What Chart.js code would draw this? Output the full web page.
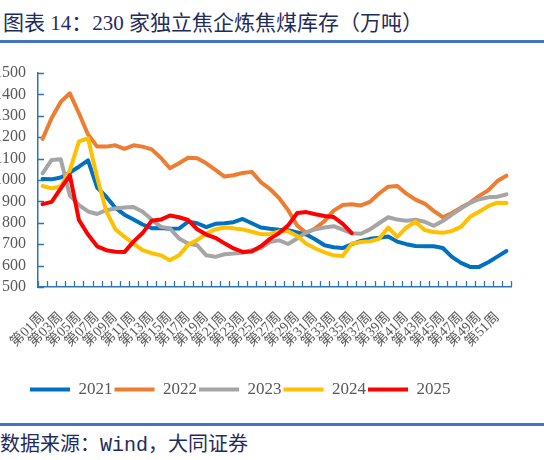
<!DOCTYPE html>
<html>
<head>
<meta charset="utf-8">
<script src="https://cdn.jsdelivr.net/npm/chart.js@4.4.1/dist/chart.umd.min.js"></script>
<style>
  body { margin: 0; width: 544px; height: 460px; background: #fff; position: relative; overflow: hidden; }
  #titulo { position: absolute; left: 3px; top: 6px; font: 21px "Liberation Serif", "Noto Sans CJK SC", serif; color: #1f2c5c; white-space: nowrap; }
  .linha { position: absolute; left: 0; width: 544px; height: 3px; background: #4472c4; }
  #fonte { position: absolute; left: 0; top: 428px; font: 20px "Noto Sans CJK SC", sans-serif; color: #1f2c5c; white-space: nowrap; }
  #fonte span { font-family: "Liberation Mono", monospace; }
  #caixa { position: absolute; left: -12px; top: 50px; }
</style>
</head>
<body>
<div id="titulo">图表 14：230 家独立焦企炼焦煤库存（万吨）</div>
<div class="linha" style="top:40px"></div>
<div id="caixa"><canvas id="grafico_estoque" width="556" height="358"></canvas></div>
<div class="linha" style="top:423px"></div>
<div id="fonte">数据来源：<span>Wind</span>，大同证券</div>
<script>
// semanas do ano
var semanas = ['第01周', '第02周', '第03周', '第04周', '第05周', '第06周', '第07周', '第08周', '第09周', '第10周',
  '第11周', '第12周', '第13周', '第14周', '第15周', '第16周', '第17周', '第18周', '第19周', '第20周',
  '第21周', '第22周', '第23周', '第24周', '第25周', '第26周', '第27周', '第28周', '第29周', '第30周',
  '第31周', '第32周', '第33周', '第34周', '第35周', '第36周', '第37周', '第38周', '第39周', '第40周',
  '第41周', '第42周', '第43周', '第44周', '第45周', '第46周', '第47周', '第48周', '第49周', '第50周',
  '第51周', '第52周'];

var anos = ['2021', '2022', '2023', '2024', '2025'];

// estoque de carvao de coque (10 mil toneladas)
var estoque2021 = [1005, 1003, 1012, 1035, 1062, 1092, 965, 922, 870, 838, 815, 792, 775, 776, 772, 773, 805, 798, 780, 795,
  798, 803, 818, 798, 778, 772, 768, 765, 755, 745, 722, 695, 686, 682, 700, 715, 725, 730, 736, 712,
  700, 692, 691, 690, 682, 641, 613, 594, 594, 616, 642, 668];
var estoque2022 = [1192, 1290, 1365, 1405, 1312, 1213, 1156, 1156, 1162, 1146, 1162, 1156, 1143, 1104, 1055, 1078, 1104, 1102, 1078, 1047,
  1016, 1022, 1033, 1038, 990, 958, 916, 859, 787, 752, 775, 808, 857, 883, 887, 881, 898, 937, 969, 972,
  936, 908, 890, 856, 826, 846, 871, 894, 926, 952, 995, 1020];
var estoque2023 = [1031, 1094, 1097, 928, 883, 853, 841, 859, 867, 871, 874, 852, 815, 781, 774, 727, 703, 695, 648, 641,
  653, 656, 660, 672, 682, 710, 718, 701, 727, 755, 770, 778, 784, 768, 751, 749, 769, 798, 826, 815,
  810, 814, 805, 786, 808, 838, 866, 893, 910, 919, 922, 933];
var estoque2024 = [972, 961, 970, 1045, 1180, 1195, 1012, 855, 770, 735, 703, 672, 658, 648, 625, 648, 697, 719, 750, 769,
  778, 774, 769, 758, 747, 748, 760, 760, 738, 702, 680, 662, 648, 645, 703, 710, 714, 725, 778, 734,
  778, 805, 766, 757, 753, 762, 781, 828, 852, 878, 894, 893];
var estoque2025 = [887, 898, 961, 1023, 813, 745, 690, 672, 665, 663, 712, 752, 810, 815, 834, 826, 813, 770, 745, 730,
  704, 680, 664, 666, 690, 725, 752, 788, 846, 850, 840, 832, 827, 795, 752];

var cores = ['#0070c0', '#ed7d31', '#a5a5a5', '#ffc000', '#ff0000'];
var corEixo = '#2f75b5';
var corTexto = '#595959';

// marcas curtas dos eixos voltadas para dentro (como no Excel)
var marcasInternas = {
  id: 'marcasInternas',
  afterLayout: function (chart) {
    // legenda comeca mais a direita, alinhada como no original
    chart.legend.left += 40;
    chart.legend.right += 40;
  },
  beforeDatasetsDraw: function (chart) {
    var c = chart.ctx;
    var area = chart.chartArea;
    var eixoX = chart.scales.x;
    var eixoY = chart.scales.y;
    c.save();
    c.strokeStyle = corEixo;
    c.lineWidth = 1.3;
    c.beginPath();
    eixoY.ticks.forEach(function (t) {
      var py = Math.round(eixoY.getPixelForValue(t.value)) + 0.5;
      c.moveTo(area.left, py);
      c.lineTo(area.left + 6, py);
    });
    for (var i = 0; i <= semanas.length; i++) {
      var px = Math.round(eixoX.getPixelForValue(i - 0.5)) + 0.5;
      c.moveTo(px, area.bottom);
      c.lineTo(px, area.bottom - 6);
    }
    c.stroke();
    c.restore();
  }
};

var series = [estoque2021, estoque2022, estoque2023, estoque2024, estoque2025];
var datasets = [];
for (var i = 0; i < anos.length; i++) {
  datasets.push({
    label: anos[i],
    data: series[i],
    borderColor: cores[i],
    backgroundColor: cores[i],
    borderWidth: 4,
    pointRadius: 0,
    fill: false,
    tension: 0,
    borderJoinStyle: 'round',
    borderCapStyle: 'round',
    order: anos.length - i // 2025 por cima
  });
}

var ctx = document.getElementById('grafico_estoque').getContext('2d');
var meuGrafico = new Chart(ctx, {
  type: 'line',
  data: {
    labels: semanas,
    datasets: datasets
  },
  options: {
    responsive: false,
    animation: false,
    layout: { padding: { left: 0, right: 33, top: 23, bottom: 0 } },
    scales: {
      x: {
        offset: true,
        grid: { display: false, drawTicks: false, offset: true },
        border: { display: true, color: corEixo, width: 1.5 },
        afterFit: function (scale) { scale.height = 92; },
        ticks: {
          autoSkip: false,
          minRotation: 45,
          maxRotation: 45,
          padding: 22,
          color: corTexto,
          font: { family: '"Liberation Serif", "Noto Sans CJK SC"', size: 14 },
          callback: function (valor, indice) {
            return indice % 2 === 0 ? semanas[indice] : '';
          }
        }
      },
      y: {
        min: 500,
        max: 1500,
        grid: { display: false, drawTicks: false },
        border: { display: true, color: corEixo, width: 1.5 },
        afterFit: function (scale) { scale.width = 50; },
        ticks: {
          stepSize: 100,
          autoSkip: false,
          padding: 12,
          color: corTexto,
          font: { family: '"Liberation Serif"', size: 16 },
          callback: function (valor) { return String(valor); }
        }
      }
    },
    plugins: {
      legend: {
        display: true, // Exibir legenda
        position: 'bottom',
        align: 'start',
        labels: {
          usePointStyle: true,
          pointStyle: 'line',
          pointStyleWidth: 40,
          padding: 2,
          color: corTexto,
          font: { family: '"Liberation Serif"', size: 17 },
          sort: function (a, b) { return a.datasetIndex - b.datasetIndex; }
        }
      },
      tooltip: { enabled: false }
    }
  },
  plugins: [marcasInternas]
});
</script>
</body>
</html>
